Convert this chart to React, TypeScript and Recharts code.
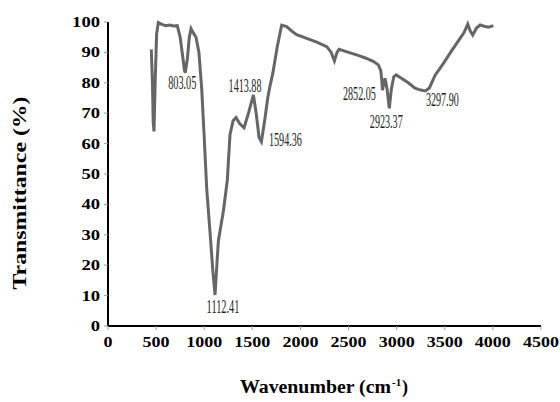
import React from 'react';
import { LineChart, Line, XAxis, YAxis, LabelList, Label } from 'recharts';

// FTIR spectrum, transmittance vs wavenumber
const wavenumber = [
  450, 462, 470, 478, 490, 505, 523, 560, 600, 640, 680, 720, 750, 775, 795, 803.05, 825, 845, 863, 885,
  915, 945, 974, 1000, 1026, 1060, 1090, 1112.41, 1135, 1147, 1200, 1240, 1268, 1300, 1330, 1370, 1413.88, 1460,
  1511, 1540, 1570, 1594.36, 1630, 1660, 1684, 1712, 1760, 1805, 1857, 1910, 1961, 2065, 2170, 2273, 2320,
  2353, 2380, 2401, 2500, 2600, 2689, 2760, 2810, 2835, 2845, 2852.05, 2868, 2879, 2900, 2923.37, 2945, 2970,
  2994, 3050, 3120, 3191, 3250, 3297.9, 3340, 3400, 3486, 3560, 3659, 3700, 3739, 3765, 3791, 3830, 3867,
  3910, 3953, 4005,
];
const transmittance = [
  91, 80, 67, 64, 80, 96, 99.8, 99.2, 98.8, 99.0, 98.7, 98.8, 95, 89, 84, 83.3, 88, 95, 97.8, 96.5,
  95, 90, 78, 62, 45, 31, 18, 10.2, 22, 28, 38, 48, 63, 67.5, 68.6, 66.5, 65.2, 70,
  76, 70, 62, 60.6, 68, 75, 79, 83, 92, 99, 98.5, 97, 95.8, 94.6, 93.4, 91.9, 90,
  87.2, 90, 91, 90, 89, 88, 87, 85.9, 84, 81, 77.6, 80, 81.5, 78, 71.6, 78, 82,
  82.6, 81.5, 80, 78.2, 77.6, 77.3, 78.3, 82.5, 86.4, 90, 94.6, 96.5, 99.3, 97, 95.7, 98, 99,
  98.6, 98.3, 98.8,
];
const peaks = [803.05, 1112.41, 1413.88, 1594.36, 2852.05, 2923.37, 3297.9];
const xTicks = [0, 500, 1000, 1500, 2000, 2500, 3000, 3500, 4000, 4500];
const yTicks = [0, 10, 20, 30, 40, 50, 60, 70, 80, 90, 100];

const data = wavenumber.map((w, i) => ({
  w,
  t: transmittance[i],
  peak: peaks.includes(w) ? w.toFixed(2) : null,
}));

// where each peak label sits relative to its point (px)
const labelOffset: Record<string, [number, number]> = {
  '803.05': [-3, 10],
  '1112.41': [8, 12],
  '1413.88': [1, -42],
  '1594.36': [24, -2],
  '2852.05': [-23, 4],
  '2923.37': [-3, 14],
  '3297.90': [17, 9],
};

const serif = "'Liberation Serif'";
const boldSerif = { fontFamily: serif, fontWeight: 700 };

const PeakLabel = (props: any) => {
  const { value } = props;
  if (value == null) return null;
  const x = props.x ?? props.viewBox?.x;
  const y = props.y ?? props.viewBox?.y;
  const [dx, dy] = labelOffset[value] ?? [0, 0];
  return (
    <text
      x={x + dx}
      y={y + dy + 6}
      textAnchor="middle"
      style={{ fontFamily: serif }}
      fontSize={18}
      fill="#222"
      textLength={value.length * 4.7}
      lengthAdjust="spacingAndGlyphs"
    >
      {value}
    </text>
  );
};

const YTick = (props: any) => {
  const { x, y, payload } = props;
  const s = String(payload.value);
  return (
    <text x={x} y={y + 5} textAnchor="end" style={boldSerif} fontSize={15} fill="#000"
      textLength={s.length * 9.3} lengthAdjust="spacingAndGlyphs">
      {s}
    </text>
  );
};

const XTick = (props: any) => {
  const { x, y, payload } = props;
  const s = String(payload.value);
  return (
    <text x={x} y={y + 11} textAnchor="middle" style={boldSerif} fontSize={15} fill="#000"
      textLength={s.length * 9} lengthAdjust="spacingAndGlyphs">
      {s}
    </text>
  );
};

const App = () => (
  <div style={{ position: 'absolute', left: 0, top: 0, background: '#fff' }}>
    <LineChart width={560} height={402} data={data} margin={{ top: 22, right: 19, left: 48, bottom: 46 }}>
      <XAxis
        dataKey="w"
        type="number"
        domain={[0, 4500]}
        ticks={xTicks}
        interval={0}
        tickSize={4}
        tickMargin={6}
        height={30}
        axisLine={{ stroke: '#000', strokeWidth: 2 }}
        tickLine={{ stroke: '#999' }}
        tick={<XTick />}
      >
        <Label
          content={() => (
            <g>
              <text x={391} y={393} textAnchor="end" style={boldSerif} fontSize={18} fill="#000"
                textLength={151} lengthAdjust="spacingAndGlyphs">
                Wavenumber (cm
              </text>
              <text x={392} y={386} style={boldSerif} fontSize={11} fill="#000">-1</text>
              <text x={402} y={393} style={boldSerif} fontSize={18} fill="#000">)</text>
            </g>
          )}
        />
      </XAxis>
      <YAxis
        type="number"
        domain={[0, 100]}
        ticks={yTicks}
        interval={0}
        width={60}
        tickSize={4}
        tickMargin={4}
        axisLine={{ stroke: '#000', strokeWidth: 2 }}
        tickLine={{ stroke: '#999' }}
        tick={<YTick />}
      >
        <Label
          content={() => (
            <text x={0} y={0} transform="translate(26 193) rotate(-90)" textAnchor="middle"
              style={boldSerif} fontSize={18} fill="#000"
              textLength={193} lengthAdjust="spacingAndGlyphs">
              Transmittance (%)
            </text>
          )}
        />
      </YAxis>
      <Line
        type="linear"
        dataKey="t"
        stroke="#666"
        strokeWidth={3}
        dot={false}
        isAnimationActive={false}
      >
        <LabelList dataKey="peak" content={PeakLabel} />
      </Line>
    </LineChart>
  </div>
);

export default App;
